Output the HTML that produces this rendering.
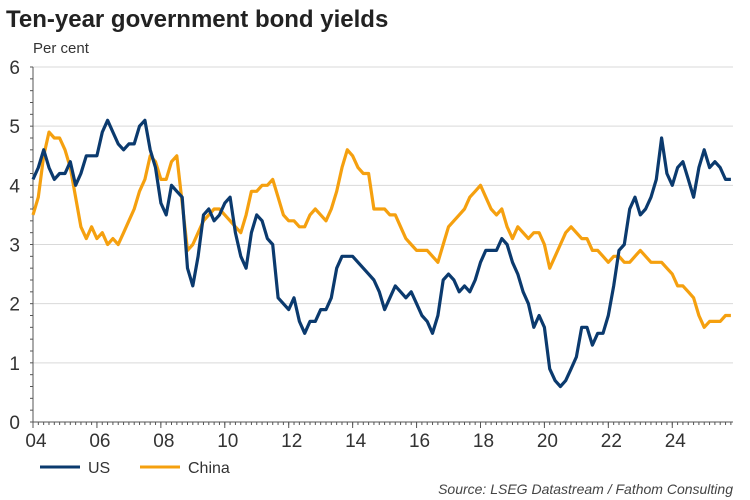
<!DOCTYPE html>
<html><head><meta charset="utf-8"><style>
body{margin:0;background:#fff;font-family:"Liberation Sans",Arial,sans-serif}
#wrap{position:relative;width:750px;height:500px;overflow:hidden}
</style></head><body>
<div id="wrap">
<svg id="svg" width="750" height="500" xmlns="http://www.w3.org/2000/svg">
<text x="6" y="27" font-size="24" font-weight="bold" fill="#222">Ten-year government bond yields</text>
<text x="33" y="53" font-size="15" fill="#333">Per cent</text>
<g id="grid"></g><g id="axes"></g><g id="series"></g>
<g>
<line x1="40" y1="467" x2="80" y2="467" stroke="#0b3a6e" stroke-width="3"/>
<text x="88" y="473" font-size="16" fill="#333">US</text>
<line x1="140" y1="467" x2="180" y2="467" stroke="#f5a00f" stroke-width="3"/>
<text x="188" y="473" font-size="16" fill="#333">China</text>
</g>
<text x="733" y="494" font-size="14" font-style="italic" fill="#444" text-anchor="end">Source: LSEG Datastream / Fathom Consulting</text>
</svg></div>
<script>
const startYear = 2004;
const stepsPerYear = 6;
const yTicks = [0,1,2,3,4,5,6];
const xTickYears = [2004,2006,2008,2010,2012,2014,2016,2018,2020,2022,2024];
const xTickLabels = ["04","06","08","10","12","14","16","18","20","22","24"];
const usValues = [
4.1,4.3,4.6,4.3,4.1,4.2, 4.2,4.4,4.0,4.2,4.5,4.5, 4.5,4.9,5.1,4.9,4.7,4.6, 4.7,4.7,5.0,5.1,4.6,4.3,
3.7,3.5,4.0,3.9,3.8,2.6, 2.3,2.8,3.5,3.6,3.4,3.5, 3.7,3.8,3.2,2.8,2.6,3.2, 3.5,3.4,3.1,3.0,2.1,2.0,
1.9,2.1,1.7,1.5,1.7,1.7, 1.9,1.9,2.1,2.6,2.8,2.8, 2.8,2.7,2.6,2.5,2.4,2.2, 1.9,2.1,2.3,2.2,2.1,2.2,
2.0,1.8,1.7,1.5,1.8,2.4, 2.5,2.4,2.2,2.3,2.2,2.4, 2.7,2.9,2.9,2.9,3.1,3.0, 2.7,2.5,2.2,2.0,1.6,1.8,
1.6,0.9,0.7,0.6,0.7,0.9, 1.1,1.6,1.6,1.3,1.5,1.5, 1.8,2.3,2.9,3.0,3.6,3.8, 3.5,3.6,3.8,4.1,4.8,4.2,
4.0,4.3,4.4,4.1,3.8,4.3, 4.6,4.3,4.4,4.3,4.1,4.1];
const chinaValues = [
3.5,3.8,4.5,4.9,4.8,4.8, 4.6,4.3,3.8,3.3,3.1,3.3, 3.1,3.2,3.0,3.1,3.0,3.2, 3.4,3.6,3.9,4.1,4.5,4.4,
4.1,4.1,4.4,4.5,3.7,2.9, 3.0,3.2,3.4,3.5,3.6,3.6, 3.5,3.4,3.3,3.2,3.5,3.9, 3.9,4.0,4.0,4.1,3.8,3.5,
3.4,3.4,3.3,3.3,3.5,3.6, 3.5,3.4,3.6,3.9,4.3,4.6, 4.5,4.3,4.2,4.2,3.6,3.6, 3.6,3.5,3.5,3.3,3.1,3.0,
2.9,2.9,2.9,2.8,2.7,3.0, 3.3,3.4,3.5,3.6,3.8,3.9, 4.0,3.8,3.6,3.5,3.6,3.3, 3.1,3.3,3.2,3.1,3.2,3.2,
3.0,2.6,2.8,3.0,3.2,3.3, 3.2,3.1,3.1,2.9,2.9,2.8, 2.7,2.8,2.8,2.7,2.7,2.8, 2.9,2.8,2.7,2.7,2.7,2.6,
2.5,2.3,2.3,2.2,2.1,1.8, 1.6,1.7,1.7,1.7,1.8,1.8];

const X0=33, X1=733, Y0=422, Y6=67, endYear=2025.9;
const xs = t => X0 + (t-startYear)/(endYear-startYear)*(X1-X0);
const ys = v => Y0 - v*(Y0-Y6)/6;
const NS="http://www.w3.org/2000/svg";
function mk(tag, parent, attrs){const e=document.createElementNS(NS,tag);for(const k in attrs)e.setAttribute(k,attrs[k]);parent.appendChild(e);return e;}
const grid=document.getElementById('grid'), axes=document.getElementById('axes'), ser=document.getElementById('series');
yTicks.forEach(v=>{
  if(v>0){const g=mk('line',grid,{x1:X0,x2:X1,y1:ys(v),y2:ys(v),stroke:'#d9d9d9','stroke-width':1});
  
  }
  const t=mk('text',axes,{x:20,y:ys(v)+7,'font-size':19,fill:'#333','text-anchor':'end'});
  t.textContent=v;
  
  
});
for(let v=0;v<=6.001;v+=0.2){mk('line',axes,{x1:X0-3,x2:X0,y1:ys(v),y2:ys(v),stroke:'#555'});}
const ya=mk('line',axes,{x1:X0,x2:X0,y1:Y6,y2:Y0,stroke:'#555'});


const xa=mk('line',axes,{x1:X0,x2:X1,y1:Y0,y2:Y0,stroke:'#555'});


for(let t=startYear;t<=endYear;t+=1/6){mk('line',axes,{x1:xs(t),x2:xs(t),y1:Y0,y2:Y0+3,stroke:'#555'});}
xTickYears.forEach((yr,i)=>{
  mk('line',axes,{x1:xs(yr),x2:xs(yr),y1:Y0,y2:Y0+6,stroke:'#555'});
  const t=mk('text',axes,{x:xs(yr)+3,y:Y0+25,'font-size':19,fill:'#333','text-anchor':'middle'});
  t.textContent=xTickLabels[i];
  
  
});
function line(vals,color,name){
  const d=vals.map((v,i)=>(i?'L':'M')+xs(startYear+i/stepsPerYear).toFixed(1)+' '+ys(v).toFixed(1)).join(' ');
  const p=mk('path',ser,{d:d,fill:'none',stroke:color,'stroke-width':3.2,'stroke-linejoin':'round'});
  
  
}
line(chinaValues,'#f5a00f','series-china');
line(usValues,'#0b3a6e','series-us');
</script>
</body></html>
